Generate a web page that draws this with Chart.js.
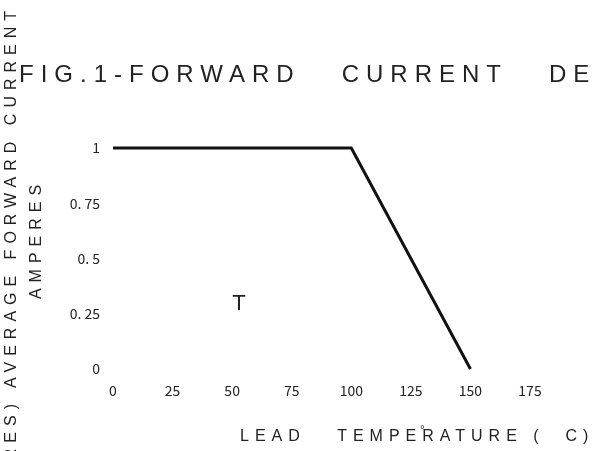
<!DOCTYPE html>
<html>
<head>
<meta charset="utf-8">
<script src="https://cdn.jsdelivr.net/npm/chart.js@4"></script>
<style>
  html, body { margin: 0; padding: 0; background: #fff; }
  #wrap { width: 592px; height: 451px; position: relative; }
</style>
</head>
<body>
<div id="wrap"><canvas id="chart-derating" width="592" height="451"></canvas></div>
<script>
  // derating curve
  const leadTemp = [0, 100, 150];          // deg C
  const avgCurrent = [1, 1, 0];            // amperes
  const xTicks = [0, 25, 50, 75, 100, 125, 150, 175];
  const yTicks = [0, 0.25, 0.5, 0.75, 1];
  const yTickLabels = ['0', '0. 25', '0. 5', '0. 75', '1'];

  const titleText = 'FIG.1-FORWARD   CURRENT   DERATING CURVE';
  const yTitleText = 'AVERAGE FORWARD CURRENT';
  const yUnitText = '(AMPERES)';
  const yUnitText2 = 'AMPERES';
  const xTitleText = 'LEAD   TEMPERATURE (  C)';

  const points = leadTemp.map((t, i) => ({ x: t, y: avgCurrent[i] }));

  // spaced-out lettering like the scanned sheet
  const sheetText = {
    id: 'sheetText',
    afterDraw(chart) {
      const ctx = chart.ctx;
      ctx.save();
      ctx.fillStyle = '#222';

      ctx.letterSpacing = '7px';
      ctx.font = '24px "Liberation Sans", Arial, sans-serif';
      ctx.textAlign = 'left';
      ctx.textBaseline = 'alphabetic';
      ctx.fillText(titleText, 19, 82);

      // x axis title
      ctx.letterSpacing = '6px';
      ctx.font = '16px "Liberation Sans", Arial, sans-serif';
      ctx.textBaseline = 'middle';
      ctx.fillText(xTitleText, 240, 437);
      ctx.letterSpacing = '0px';
      ctx.font = '12px "Liberation Sans", Arial, sans-serif';
      ctx.fillText('°', 420, 431);

      // T mark inside the plot
      ctx.font = '22px "Liberation Sans", Arial, sans-serif';
      ctx.textAlign = 'center';
      ctx.fillText('T', 239, 304);

      // rotated y titles
      ctx.letterSpacing = '6px';
      ctx.font = '16px "Liberation Sans", Arial, sans-serif';
      ctx.save();
      ctx.translate(12, 388);
      ctx.rotate(-Math.PI / 2);
      ctx.textAlign = 'left';
      ctx.fillText(yTitleText, 0, 0);
      ctx.restore();

      ctx.save();
      ctx.translate(12, 398);
      ctx.rotate(-Math.PI / 2);
      ctx.textAlign = 'right';
      ctx.fillText(yUnitText, 0, 0);
      ctx.restore();

      ctx.save();
      ctx.translate(37, 239);
      ctx.rotate(-Math.PI / 2);
      ctx.textAlign = 'center';
      ctx.fillText(yUnitText2, 0, 0);
      ctx.restore();

      ctx.restore();
    }
  };

  const tickFont = { family: '"Noto Sans CJK JP", "Liberation Sans", sans-serif', size: 14 };

  const ctx = document.getElementById('chart-derating').getContext('2d');
  new Chart(ctx, {
    type: 'line',
    data: {
      datasets: [{
        data: points,
        borderColor: '#111',
        borderWidth: 3,
        pointRadius: 0,
        tension: 0,
        fill: false,
        clip: false
      }]
    },
    options: {
      responsive: false,
      animation: false,
      layout: { padding: { top: 148, right: 62, left: 0, bottom: 0 } },
      plugins: {
        legend: { display: false },
        tooltip: { enabled: false }
      },
      scales: {
        x: {
          type: 'linear',
          min: 0,
          max: 175,
          afterFit: (scale) => { scale.height = 82; },
          afterBuildTicks: (scale) => { scale.ticks = xTicks.map(v => ({ value: v })); },
          grid: { display: false, drawTicks: false },
          border: { display: false },
          ticks: {
            autoSkip: false,
            maxRotation: 0,
            padding: 13,
            color: '#222',
            font: tickFont
          }
        },
        y: {
          min: 0,
          max: 1,
          afterFit: (scale) => { scale.width = 113; },
          afterBuildTicks: (scale) => { scale.ticks = yTicks.map(v => ({ value: v })); },
          grid: { display: false, drawTicks: false },
          border: { display: false },
          ticks: {
            padding: 13,
            color: '#222',
            font: tickFont,
            callback: (v) => yTickLabels[yTicks.indexOf(v)]
          }
        }
      }
    },
    plugins: [sheetText]
  });
</script>
</body>
</html>
